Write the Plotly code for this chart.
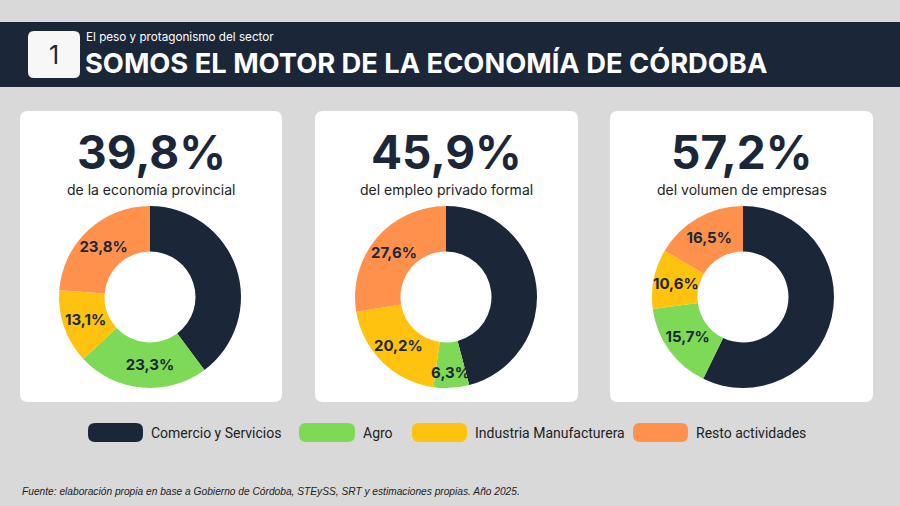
import plotly.graph_objects as go

W, H = 900, 506

categories = ["Comercio y Servicios", "Agro", "Industria Manufacturera", "Resto actividades"]
colors = ["#1b2739", "#7ed957", "#ffc20e", "#ff914d"]

economia = [39.8, 23.3, 13.1, 23.8]
empleo = [45.9, 6.3, 20.2, 27.6]
empresas = [57.2, 15.7, 10.6, 16.5]

headline_values = [39.8, 45.9, 57.2]
headline_labels = ["de la economía provincial", "del empleo privado formal", "del volumen de empresas"]

title_small = "El peso y protagonismo del sector"
title_big = "SOMOS EL MOTOR DE LA ECONOMÍA DE CÓRDOBA"
section_number = "1"
source_note = "Fuente: elaboración propia en base a Gobierno de Córdoba, STEySS, SRT y estimaciones propias. Año 2025."

DARK = "#1b2739"
BG = "#d9d9d9"


def fmt(v):
    return f"{v:.1f}".replace(".", ",") + "%"


def rounded_rect(x0, y0, x1, y1, r):
    return (f"M{x0+r},{y0} L{x1-r},{y0} Q{x1},{y0} {x1},{y0+r} "
            f"L{x1},{y1-r} Q{x1},{y1} {x1-r},{y1} L{x0+r},{y1} "
            f"Q{x0},{y1} {x0},{y1-r} L{x0},{y0+r} Q{x0},{y0} {x0+r},{y0} Z")


fig = go.Figure()

# invisible pixel-space axes
fig.add_trace(go.Scatter(x=[0, W], y=[0, H], mode="markers",
                         marker=dict(opacity=0), hoverinfo="skip", showlegend=False))

shapes = []
annotations = []

# header bar
shapes.append(dict(type="rect", x0=0, x1=W, y0=22, y1=87, fillcolor=DARK,
                   line=dict(width=0), layer="below", xref="x", yref="y"))
shapes.append(dict(type="path", path=rounded_rect(28, 31, 80, 78, 6), fillcolor="#f7f7f7",
                   line=dict(width=0), layer="below", xref="x", yref="y"))
annotations.append(dict(x=54, y=55, text=section_number, showarrow=False,
                        font=dict(family="Inter", size=25, color=DARK), xref="x", yref="y"))
annotations.append(dict(x=84, y=37, text=title_small, showarrow=False, xanchor="left",
                        font=dict(family="Inter", size=11.7, color="white"), xref="x", yref="y"))
annotations.append(dict(x=83, y=63, text="<b>" + title_big + "</b>", showarrow=False, xanchor="left",
                        font=dict(family="Inter", size=27.3, color="white"), xref="x", yref="y"))

# cards and donuts
cards = [(20, 282), (315, 578), (610, 873)]
donut_cx = [150, 446, 743]
donut_cy = 297
R = 91
datasets = [economia, empleo, empresas]

for i, ((cx0, cx1), vals) in enumerate(zip(cards, datasets)):
    shapes.append(dict(type="path", path=rounded_rect(cx0, 111, cx1, 402, 8), fillcolor="white",
                       line=dict(width=0), layer="below", xref="x", yref="y"))
    ccx = (cx0 + cx1) / 2
    annotations.append(dict(x=ccx, y=152, text="<b>" + fmt(headline_values[i]) + "</b>", showarrow=False,
                            font=dict(family="Inter", size=46, color=DARK), xref="x", yref="y"))
    annotations.append(dict(x=ccx, y=189, text=headline_labels[i], showarrow=False,
                            font=dict(family="Inter", size=14, color="#222222"), xref="x", yref="y"))
    dx = donut_cx[i]
    dom = dict(x=[(dx - R) / W, (dx + R) / W], y=[1 - (donut_cy + R) / H, 1 - (donut_cy - R) / H])
    texts = ["" if j == 0 else "<b>" + fmt(v) + "</b>" for j, v in enumerate(vals)]
    # coloured donut
    fig.add_trace(go.Pie(
        labels=categories, values=vals, sort=False, direction="clockwise", rotation=0,
        hole=0.5, marker=dict(colors=colors, line=dict(width=0)),
        textinfo="none", domain=dom, showlegend=False, hoverinfo="label+value"))
    # transparent overlay carrying the labels so they are never hidden by neighbouring slices
    fig.add_trace(go.Pie(
        labels=categories, values=vals, sort=False, direction="clockwise", rotation=0,
        hole=0.5, marker=dict(colors=["rgba(0,0,0,0)"] * 4, line=dict(width=0)),
        text=texts, textinfo="text", textposition="inside", insidetextorientation="horizontal",
        textfont=dict(family="Inter", size=15, color=DARK),
        domain=dom, showlegend=False, hoverinfo="skip"))

# legend
legend_pills = [(88, 143), (299, 355), (412, 467), (633, 688)]
for (px0, px1), cat, col in zip(legend_pills, categories, colors):
    shapes.append(dict(type="path", path=rounded_rect(px0, 423, px1, 442, 7), fillcolor=col,
                       line=dict(width=0), layer="below", xref="x", yref="y"))
    annotations.append(dict(x=px1 + 6, y=433, text=cat, showarrow=False, xanchor="left",
                            font=dict(family="Roboto", size=14, color="#222222"),
                            xref="x", yref="y"))

annotations.append(dict(x=20, y=491, text="<i>" + source_note + "</i>", showarrow=False, xanchor="left",
                        font=dict(family="Liberation Sans, Arial", size=10.2, color="#222222"),
                        xref="x", yref="y"))

fig.update_layout(
    width=W, height=H, margin=dict(l=0, r=0, t=0, b=0),
    paper_bgcolor=BG, plot_bgcolor="rgba(0,0,0,0)",
    xaxis=dict(range=[0, W], visible=False, domain=[0, 1], fixedrange=True),
    yaxis=dict(range=[H, 0], visible=False, domain=[0, 1], fixedrange=True),
    shapes=shapes, annotations=annotations, showlegend=False,
    uniformtext=dict(minsize=15, mode="show"),
)

fig.write_html("out.html", config={"displayModeBar": False})
